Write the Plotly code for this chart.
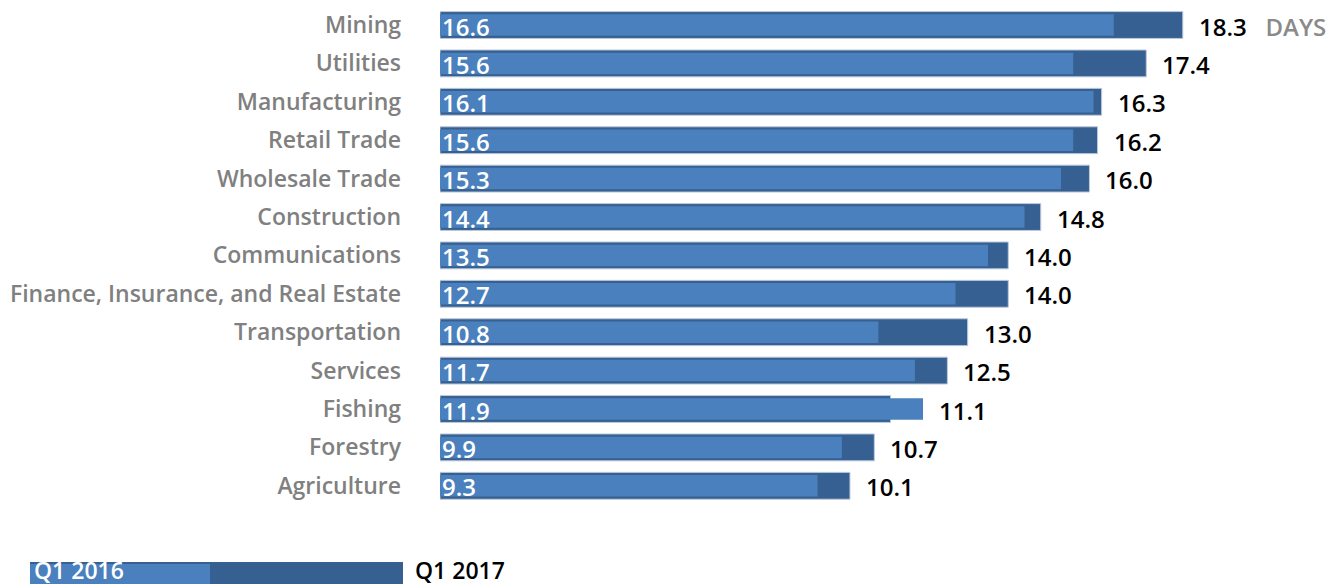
import plotly.graph_objects as go

categories = ["Mining", "Utilities", "Manufacturing", "Retail Trade", "Wholesale Trade",
              "Construction", "Communications", "Finance, Insurance, and Real Estate",
              "Transportation", "Services", "Fishing", "Forestry", "Agriculture"]
q1_2016 = [16.6, 15.6, 16.1, 15.6, 15.3, 14.4, 13.5, 12.7, 10.8, 11.7, 11.9, 9.9, 9.3]
q1_2017 = [18.3, 17.4, 16.3, 16.2, 16.0, 14.8, 14.0, 14.0, 13.0, 12.5, 11.1, 10.7, 10.1]
series_names = ["Q1 2016", "Q1 2017"]
unit_label = "DAYS"

LIGHT = "rgb(74,128,189)"
DARK = "rgb(54,96,145)"
FONT = "Open Sans"
OFF = 8  # page body margin

W, H = 1335, 576
ML, MR, MT, MB = 432, 10, 0, 79
PW, PH = W - ML - MR, H - MT - MB

def px_x(px):
    return (px - OFF - ML) / PW

def px_y(py):
    return (H - MB - (py - OFF)) / PH

fig = go.Figure()
fig.add_trace(go.Bar(
    y=categories, x=q1_2017, orientation="h", name=series_names[1],
    marker=dict(color=DARK, line=dict(color="rgb(190,202,220)", width=1)),
    width=0.70, textposition="none", hoverinfo="x+y",
))
fig.add_trace(go.Bar(
    y=categories, x=q1_2016, orientation="h", name=series_names[0],
    marker=dict(color=LIGHT, line=dict(width=0)),
    width=0.56, textposition="none", hoverinfo="x+y",
))

annotations = []
for cat, a, b in zip(categories, q1_2016, q1_2017):
    annotations.append(dict(
        x=0, y=cat, xref="x", yref="y", text=f"{a:.1f}", showarrow=False,
        xanchor="left", xshift=0, yshift=-1,
        font=dict(family=FONT, size=24, color="white", weight=600),
    ))
    label = f"{b:.1f}"
    if cat == categories[0]:
        label += f"   <span style='color:#8a8a8a'>{unit_label}</span>"
    annotations.append(dict(
        x=max(a, b), y=cat, xref="x", yref="y", text=label, showarrow=False,
        xanchor="left", xshift=14, yshift=-1,
        font=dict(family=FONT, size=24, color="black", weight=600),
    ))

# legend swatch at bottom
shapes = [
    dict(type="rect", xref="paper", yref="paper",
         x0=px_x(30), x1=px_x(403), y0=px_y(600), y1=px_y(562),
         fillcolor=DARK, line=dict(width=0), layer="above"),
    dict(type="rect", xref="paper", yref="paper",
         x0=px_x(30), x1=px_x(210), y0=px_y(600), y1=px_y(564),
         fillcolor=LIGHT, line=dict(width=0), layer="above"),
]
annotations.append(dict(
    x=px_x(32), y=px_y(570), xref="paper", yref="paper", text=series_names[0],
    showarrow=False, xanchor="left", yanchor="middle",
    font=dict(family=FONT, size=23, color="white", weight=600),
))
annotations.append(dict(
    x=px_x(413), y=px_y(570), xref="paper", yref="paper", text=series_names[1],
    showarrow=False, xanchor="left", yanchor="middle",
    font=dict(family=FONT, size=23, color="black", weight=600),
))

fig.update_layout(
    width=W, height=H,
    margin=dict(l=ML, r=MR, t=MT, b=MB, pad=0),
    barmode="overlay", showlegend=False,
    plot_bgcolor="white", paper_bgcolor="white",
    annotations=annotations, shapes=shapes,
    xaxis=dict(range=[0, 22], visible=False, fixedrange=True),
    yaxis=dict(range=[12.5, -0.443], showgrid=False, zeroline=False, showline=False,
               ticks="", ticklabelstandoff=38,
               tickfont=dict(family=FONT, size=23, color="#808080", weight=600)),
)

fig.write_html("out.html")
